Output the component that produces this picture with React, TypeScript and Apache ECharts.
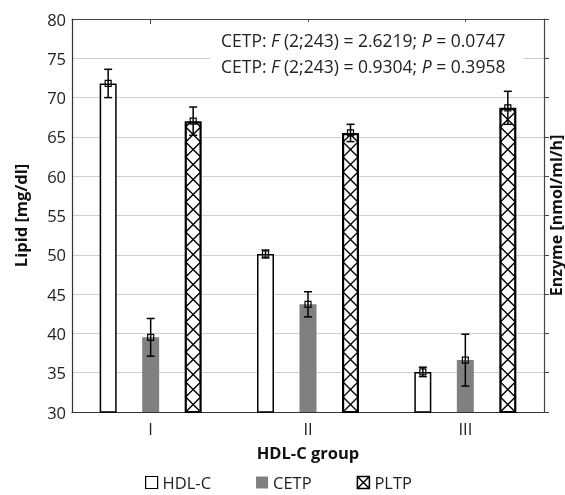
import React, { useEffect, useRef } from "react";
import * as echarts from "echarts";

const categories = ["I", "II", "III"];
const hdlValues = [71.8, 50.1, 35.1];
const hdlErrors = [1.8, 0.5, 0.6];
const cetpValues = [39.5, 43.7, 36.6];
const cetpErrors = [2.4, 1.6, 3.3];
const pltpValues = [67.0, 65.5, 68.7];
const pltpErrors = [1.8, 1.1, 2.1];
const yMin = 30;
const yMax = 80;
const yInterval = 5;
const annotationLines = [
  { label: "CETP: ", df: " (2;243) = ", f: "2.6219", p: "0.0747" },
  { label: "CETP: ", df: " (2;243) = ", f: "0.9304", p: "0.3958" },
];

const FONT = "Open Sans";
const FS = 16.5;
const BAR_W = 17;
const OFFSET = 42.5;

export default function App() {
  const ref = useRef<HTMLDivElement>(null);
  useEffect(() => {
    if (!ref.current) return;
    const chart = echarts.init(ref.current, null, { renderer: "svg" });

    const errData: number[][] = [];
    [hdlValues, cetpValues, pltpValues].forEach((vals, s) => {
      const errs = [hdlErrors, cetpErrors, pltpErrors][s];
      vals.forEach((v, i) => errData.push([i, v, errs[i], s]));
    });
    const hatchData = pltpValues.map((v, i) => [i, v]);

    const AFS = 17.5;
    const annText = (l: typeof annotationLines[0]) =>
      `${l.label}{i|F}${l.df}${l.f}; {i|P} = ${l.p}`;

    const titleStyle = { fontSize: FS, fontWeight: "bold", color: "#111", fontFamily: FONT };

    const option: any = {
      animation: false,
      textStyle: { fontFamily: FONT },
      grid: { left: 72, right: 21, top: 19, bottom: 83, containLabel: false, outerBoundsMode: "none" },
      legend: {
        bottom: -1,
        left: 140,
        itemWidth: 12,
        itemHeight: 12,
        itemGap: 45,
        textStyle: { fontFamily: FONT, fontSize: FS, color: "#222" },
        data: [
          { name: "HDL-C", icon: "rect", itemStyle: { color: "#fff", borderColor: "#000", borderWidth: 1.2 } },
          { name: "CETP", icon: "rect", itemStyle: { color: "#808080", borderWidth: 0 } },
          {
            name: "PLTP",
            icon: "path://M0,0L10,0L10,10L0,10Z M0,0L10,10 M10,0L0,10",
            itemStyle: { color: "#fff", borderColor: "#000", borderWidth: 1.5 },
          },
        ],
      },
      xAxis: [
        {
          type: "category",
          data: categories,
          position: "bottom",
          axisLine: { lineStyle: { color: "#333", width: 1.2 } },
          axisTick: { show: false },
          axisLabel: { fontSize: FS, color: "#222", margin: 8, fontFamily: FONT },
          name: "HDL-C group",
          nameLocation: "middle",
          nameGap: 32,
          nameTextStyle: titleStyle,
        },
        {
          type: "category",
          data: categories,
          position: "top",
          axisLine: { lineStyle: { color: "#444", width: 1.2 } },
          axisTick: { show: true, inside: true, alignWithLabel: true, length: 5, lineStyle: { color: "#444" } },
          axisLabel: { show: false },
        },
      ],
      yAxis: [
        {
          type: "value",
          min: yMin,
          max: yMax,
          interval: yInterval,
          position: "left",
          axisLine: { show: true, lineStyle: { color: "#333", width: 1.2 } },
          axisTick: { show: false },
          axisLabel: { fontSize: FS, color: "#222", margin: 6, fontFamily: FONT },
          splitLine: { lineStyle: { color: "#cfcfcf", width: 1 } },
          name: "Lipid [mg/dl]",
          nameLocation: "middle",
          nameRotate: 90,
          nameGap: 43,
          nameTextStyle: titleStyle,
        },
        {
          type: "value",
          min: yMin,
          max: yMax,
          interval: yInterval,
          position: "right",
          axisLine: { show: true, lineStyle: { color: "#444", width: 1.2 } },
          axisTick: { show: true, inside: false, length: 5, lineStyle: { color: "#444" } },
          axisLabel: { show: false },
          splitLine: { show: false },
          name: "Enzyme [nmol/ml/h]",
          nameLocation: "middle",
          nameRotate: 90,
          nameGap: 3,
          nameTextStyle: { ...titleStyle, fontSize: 16, lineHeight: 17 },
        },
      ],
      series: [
        {
          name: "HDL-C",
          type: "bar",
          data: hdlValues,
          barWidth: BAR_W,
          barGap: "150%",
          itemStyle: { color: "#fff", borderColor: "#000", borderWidth: 1.5 },
          z: 2,
        },
        {
          name: "CETP",
          type: "bar",
          data: cetpValues,
          barWidth: BAR_W,
          barGap: "150%",
          itemStyle: { color: "#808080" },
          z: 2,
        },
        {
          name: "PLTP",
          type: "bar",
          data: pltpValues,
          barWidth: BAR_W,
          barGap: "150%",
          itemStyle: { color: "#fff", borderColor: "#000", borderWidth: 2.2 },
          z: 2,
        },
        {
          name: "pltp-hatch",
          type: "custom",
          data: hatchData,
          z: 3,
          silent: true,
          renderItem: (params: any, api: any) => {
            const cat = api.value(0);
            const v = api.value(1);
            const pTop = api.coord([cat, v]);
            const pBot = api.coord([cat, yMin]);
            const cx = pTop[0] + OFFSET;
            const xl = cx - 7.5;
            const xr = cx + 7.5;
            const top = pTop[1] + 1;
            const bot = pBot[1];
            const h = 15;
            const build = (startLeft: boolean) => {
              const pts: number[][] = [[startLeft ? xl : xr, bot]];
              let k = 1;
              let left = startLeft;
              while (true) {
                const yk = bot - k * h;
                const prev = pts[pts.length - 1];
                const nx = left ? xr : xl;
                if (yk <= top) {
                  const frac = (prev[1] - top) / h;
                  pts.push([prev[0] + (nx - prev[0]) * frac, top]);
                  break;
                }
                pts.push([nx, yk]);
                left = !left;
                k++;
              }
              return pts;
            };
            return {
              type: "group",
              children: [
                { type: "polyline", shape: { points: build(true) }, style: { stroke: "#000", lineWidth: 1.4, fill: null } },
                { type: "polyline", shape: { points: build(false) }, style: { stroke: "#000", lineWidth: 1.4, fill: null } },
              ],
            };
          },
        },
        {
          name: "errors",
          type: "custom",
          data: errData,
          z: 4,
          silent: true,
          renderItem: (params: any, api: any) => {
            const cat = api.value(0);
            const v = api.value(1);
            const e = api.value(2);
            const s = api.value(3);
            const off = (s - 1) * OFFSET;
            const mid = api.coord([cat, v]);
            const hi = api.coord([cat, v + e]);
            const lo = api.coord([cat, v - e]);
            const x = mid[0] + off;
            const cap = 4;
            const st = { stroke: "#000", lineWidth: 1.5 };
            return {
              type: "group",
              children: [
                { type: "line", shape: { x1: x, y1: hi[1], x2: x, y2: lo[1] }, style: st },
                { type: "line", shape: { x1: x - cap, y1: hi[1], x2: x + cap, y2: hi[1] }, style: st },
                { type: "line", shape: { x1: x - cap, y1: lo[1], x2: x + cap, y2: lo[1] }, style: st },
                {
                  type: "rect",
                  shape: { x: x - 3, y: mid[1] - 3, width: 6, height: 6 },
                  style: { stroke: "#000", lineWidth: 1.2, fill: null },
                },
              ],
            };
          },
        },
      ],
      graphic: [
        {
          type: "rect",
          z: 100,
          shape: { x: 210, y: 22, width: 313, height: 55 },
          style: { fill: "#fff" },
        },
        ...annotationLines.map((l, i) => ({
          type: "text",
          z: 101,
          x: 221,
          y: 40 + i * 26,
          style: {
            text: annText(l),
            fontFamily: FONT,
            fontSize: AFS,
            fill: "#222",
            verticalAlign: "middle",
            align: "left",
            rich: { i: { fontStyle: "italic", fontFamily: FONT, fontSize: AFS, fill: "#222" } },
          },
        })),
      ],
    };

    chart.setOption(option);
    return () => chart.dispose();
  }, []);

  return <div ref={ref} style={{ position: "fixed", left: 0, top: 0, width: 565, height: 495 }} />;
}
